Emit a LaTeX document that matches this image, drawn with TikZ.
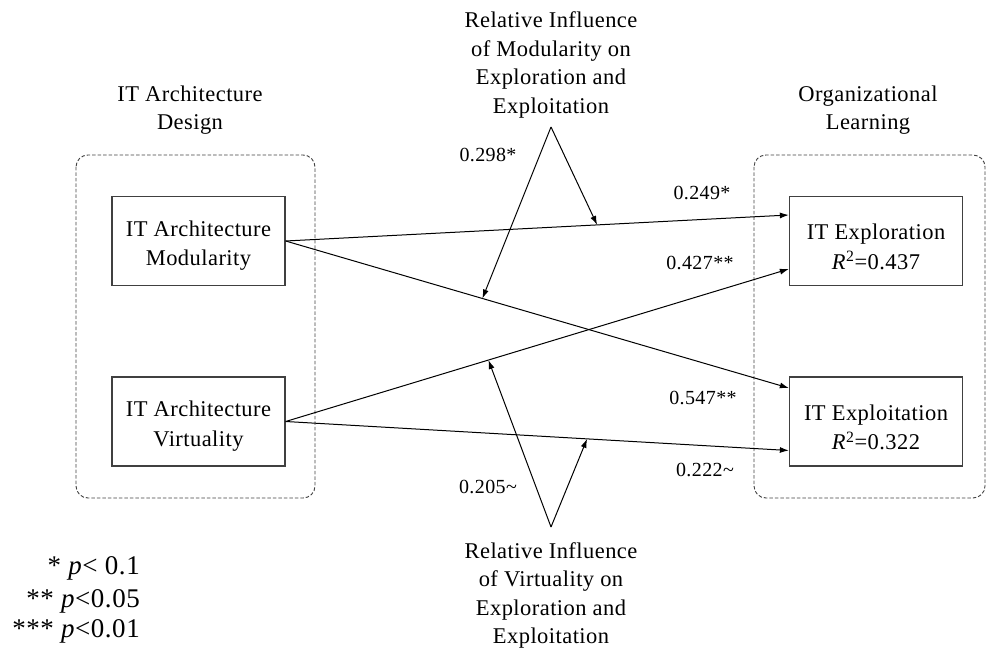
\documentclass[tikz,border=0pt]{standalone}
\usepackage{fontspec}
\setmainfont{Liberation Serif}[LetterSpace=2]
\usetikzlibrary{arrows.meta}
\begin{document}
\begin{tikzpicture}[x=1pt,y=-1pt,
  blk/.style={draw=black!75,line width=1.3pt,minimum width=173pt,minimum height=89pt,align=center,inner sep=0pt,font=\fontsize{22.5}{29.5}\selectfont},
  ttl/.style={align=center,font=\fontsize{22.5}{28.5}\selectfont,inner sep=0pt},
  coef/.style={font=\fontsize{20}{22}\selectfont,inner sep=0pt},
  leg/.style={font=\fontsize{27}{30}\selectfont,inner sep=0pt,anchor=east},
  grp/.style={draw=black!75,line width=0.9pt,dash pattern=on 3.5pt off 2pt,rounded corners=12pt},
  arr/.style={line width=1pt,-{Latex[length=9pt,width=6pt]}}]
\useasboundingbox (0,0) rectangle (987,652);
% group boxes
\draw[grp] (76,155) rectangle (315,498);
\draw[grp] (754,155) rectangle (985,498);
% titles
\node[ttl] (tl) at (190,110) {IT Architecture\\Design};
\node[ttl] (tr) at (868,110) {Organizational\\Learning};
% construct boxes
\node[blk] (mod) at (198.5,241) {\rule{0pt}{25pt}IT Architecture\\Modularity};
\node[blk] (virt) at (198.5,421.5) {\rule{0pt}{25pt}IT Architecture\\Virtuality};
\node[blk] (expl) at (876,241) {\rule{0pt}{27pt}IT Exploration\\\textit{R}\textsuperscript{2}=0.437};
\node[blk] (expt) at (876,421.5) {\rule{0pt}{27pt}IT Exploitation\\\textit{R}\textsuperscript{2}=0.322};
% moderator labels
\node[ttl,anchor=south,inner ysep=9pt] (topm) at (551,127) {Relative Influence\\of Modularity on\\Exploration and\\Exploitation};
\node[ttl,anchor=north,inner ysep=15pt] (botv) at (551,527) {Relative Influence\\of Virtuality on\\Exploration and\\Exploitation};
% main paths
\draw[arr] (mod.east) -- coordinate[pos=0.619] (p1) ([yshift=26pt]expl.west);
\draw[arr] (mod.east) -- coordinate[pos=0.391] (p2) ([yshift=33.5pt]expt.west);
\draw[arr] (virt.east) -- coordinate[pos=0.403] (p3) ([yshift=-28pt]expl.west);
\draw[arr] (virt.east) -- coordinate[pos=0.599] (p4) ([yshift=-29pt]expt.west);
% moderating paths
\draw[arr] (topm.south) -- (p1);
\draw[arr] (topm.south) -- (p2);
\draw[arr] (botv.north) -- (p3);
\draw[arr] (botv.north) -- (p4);
% coefficients
\node[coef] (c1) at (702,193) {0.249*};
\node[coef] (c2) at (700,263) {0.427**};
\node[coef] (c3) at (703,398) {0.547**};
\node[coef] (c4) at (705,470) {0.222\textasciitilde};
\node[coef] (c5) at (488,155) {0.298*};
\node[coef] (c6) at (488,487) {0.205\textasciitilde};
% legend
\node[leg] (g1) at (140,568) {* \textit{p}< 0.1};
\node[leg] (g2) at (140,601) {** \textit{p}<0.05};
\node[leg] (g3) at (140,631) {*** \textit{p}<0.01};
\end{tikzpicture}
\end{document}
